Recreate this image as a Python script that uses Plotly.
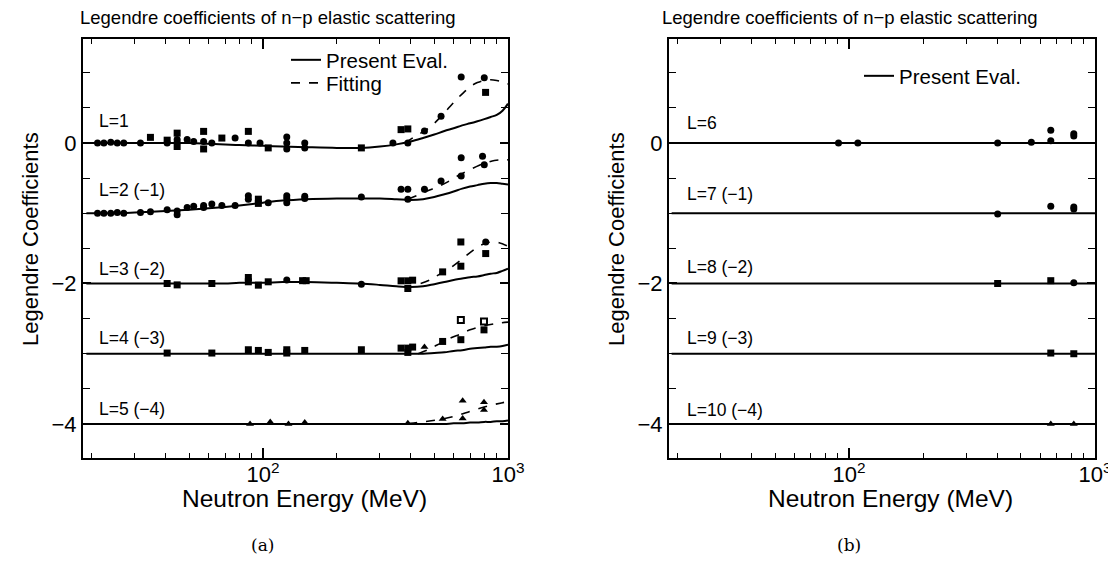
import plotly.graph_objects as go

# ---------------- data ----------------
E_curve = [19, 25, 30, 40, 50, 60, 70, 80, 100, 120, 150, 200, 250, 300, 350,
           400, 450, 500, 550, 600, 650, 700, 750, 800, 850, 900, 950, 1000]
L1_eval = [0, 0, 0, 0, 0, -0.01, -0.02, -0.03, -0.04, -0.05, -0.06, -0.07, -0.07, -0.05, -0.02,
           0.02, 0.07, 0.12, 0.17, 0.21, 0.25, 0.28, 0.31, 0.34, 0.37, 0.40, 0.46, 0.56]
L2_eval = [-1.0, -1.0, -0.99, -0.97, -0.95, -0.93, -0.91, -0.89, -0.85, -0.82, -0.80, -0.79, -0.79, -0.79, -0.80,
           -0.81, -0.80, -0.77, -0.73, -0.69, -0.65, -0.62, -0.60, -0.58, -0.57, -0.57, -0.58, -0.59]
L3_eval = [-2.0, -2.0, -2.0, -2.0, -2.0, -2.0, -2.0, -1.99, -1.99, -1.98, -1.98, -1.99, -2.0, -2.02, -2.04,
           -2.05, -2.04, -2.01, -1.98, -1.95, -1.93, -1.91, -1.90, -1.88, -1.86, -1.85, -1.82, -1.79]
L4_eval = [-3.0, -3.0, -3.0, -3.0, -3.0, -3.0, -3.0, -3.0, -3.0, -3.0, -3.0, -3.0, -3.0, -3.0, -3.0,
           -3.0, -3.0, -2.99, -2.98, -2.96, -2.95, -2.93, -2.92, -2.91, -2.90, -2.90, -2.89, -2.87]
L5_eval = [-4.0, -4.0, -4.0, -4.0, -4.0, -4.0, -4.0, -4.0, -4.0, -4.0, -4.0, -4.0, -4.0, -4.0, -4.0,
           -4.0, -4.0, -4.0, -4.0, -3.99, -3.99, -3.98, -3.98, -3.97, -3.97, -3.96, -3.96, -3.95]

# fitting curves (dashed)
L1_fit_E = [380, 420, 460, 500, 540, 580, 620, 660, 700, 750, 800, 850, 900, 950, 1000]
L1_fit = [0.0, 0.10, 0.18, 0.28, 0.40, 0.52, 0.63, 0.72, 0.80, 0.86, 0.89, 0.90, 0.89, 0.87, 0.84]
L2_fit_E = [390, 430, 470, 520, 570, 630, 700, 760, 820, 880, 950, 1000]
L2_fit = [-0.80, -0.74, -0.68, -0.62, -0.55, -0.46, -0.38, -0.32, -0.28, -0.25, -0.24, -0.24]
L3_fit_E = [440, 480, 530, 580, 640, 700, 760, 820, 870, 920, 1000]
L3_fit = [-2.0, -1.95, -1.86, -1.78, -1.67, -1.56, -1.47, -1.42, -1.41, -1.42, -1.47]
L4_fit_E = [430, 480, 530, 580, 640, 700, 780, 860, 940, 1000]
L4_fit = [-3.0, -2.93, -2.85, -2.78, -2.72, -2.66, -2.61, -2.58, -2.56, -2.55]
L5_fit_E = [330, 400, 470, 540, 620, 700, 780, 860, 940, 1000]
L5_fit = [-4.0, -3.99, -3.96, -3.93, -3.88, -3.82, -3.77, -3.73, -3.70, -3.68]

# experimental points, panel (a)
a_circ_E = [21.1, 22.4, 23.9, 25.4, 27.0, 31.6, 40.6, 44.6, 44.6, 49.0, 52.1, 57.2, 61.8, 76.9, 87.1, 97.2,
            125, 125, 125, 148, 148, 339, 390, 456, 533, 644, 800,
            21.1, 22.4, 23.9, 25.4, 27.0, 31.6, 34.7, 40.6, 44.6, 44.6, 49.0, 52.1, 57.2, 57.2, 61.8, 67.9,
            76.9, 87.1, 87.1, 105, 125, 125, 125, 148, 148, 252, 366, 390, 390, 456, 533, 644, 644, 787, 800,
            125, 252, 811]
a_circ_v = [0, 0, 0.01, 0, 0, 0, 0, 0.05, 0.01, 0.05, 0.02, 0.02, 0, 0.07, 0, 0,
            0.085, 0, -0.085, 0, -0.07, 0, 0, 0.17, 0.38, 0.94, 0.93,
            -1.0, -1.0, -1.0, -0.99, -1.0, -0.99, -0.98, -0.95, -0.97, -1.02, -0.92, -0.90, -0.89, -0.92, -0.87, -0.89,
            -0.89, -0.75, -0.80, -0.85, -0.75, -0.79, -0.85, -0.76, -0.79, -0.77, -0.66, -0.66, -0.80, -0.66, -0.54,
            -0.21, -0.47, -0.19, -0.31,
            -1.95, -2.01, -1.41]
a_sq_E = [34.7, 40.6, 44.6, 44.6, 57.2, 57.2, 67.9, 87.1, 105, 252, 366, 390, 810,
          95.7, 95.7,
          40.6, 44.6, 61.8, 87.1, 87.1, 95.7, 105, 145, 150, 366, 390, 390, 408, 541, 642, 642, 811,
          40.6, 61.8, 87.1, 95.7, 105, 125, 125, 148, 252, 366, 390, 390, 408, 541, 642, 798]
a_sq_v = [0.08, 0.04, 0.14, -0.05, 0.165, -0.085, 0.07, 0.165, -0.07, -0.07, 0.19, 0.2, 0.72,
          -0.8, -0.86,
          -2.0, -2.02, -2.0, -1.915, -1.976, -2.024, -1.976, -1.96, -1.96, -1.962, -1.962, -2.071, -1.953, -1.835,
          -1.754, -1.409, -1.574,
          -2.99, -2.99, -2.943, -2.953, -2.981, -2.943, -2.99, -2.953, -2.943, -2.92, -2.92, -2.981, -2.905,
          -2.825, -2.80, -2.66]
a_osq_E = [642, 798]
a_osq_v = [-2.518, -2.541]
a_tri_E = [88.5, 107, 127, 148, 390, 456, 541, 653, 653, 798, 798]
a_tri_v = [-4.0, -3.97, -4.0, -3.98, -3.99, -2.905, -3.93, -3.67, -3.92, -3.69, -3.80]

# panel (b)
b_E_line = [19, 1000]
b_offsets = [0, -1, -2, -3, -4]
b_circ_E = [90.6, 108.6, 402, 551, 661, 661, 820, 820, 402, 661, 820, 820, 820]
b_circ_v = [0, 0, 0, 0.01, 0.18, 0.03, 0.13, 0.10, -1.01, -0.90, -0.91, -0.94, -1.99]
b_sq_E = [402, 661, 661, 820]
b_sq_v = [-2.0, -1.96, -2.99, -3.0]
b_tri_E = [661, 820]
b_tri_v = [-4.0, -4.0]

labels_a = ["L=1", "L=2 (−1)", "L=3 (−2)", "L=4 (−3)", "L=5 (−4)"]
labels_b = ["L=6", "L=7 (−1)", "L=8 (−2)", "L=9 (−3)", "L=10 (−4)"]
label_y_a = [0.31, -0.67, -1.79, -2.77, -3.78]
label_y_b = [0.28, -0.72, -1.77, -2.77, -3.80]

x_tickvals = [100, 1000]
x_ticktext = ["10<sup>2</sup>", "10<sup>3</sup>"]
x_minor = [20, 30, 40, 50, 60, 70, 80, 90, 200, 300, 400, 500, 600, 700, 800, 900]
y_tickvals = [-4, -2, 0]
y_ticktext = ["−4", "−2", "0"]

# ---------------- figure ----------------
FONT = "Liberation Sans, Arial, sans-serif"
# the page body adds an 8 px margin; layout positions below are given in window pixels
OFF = 8
W, H = 1116 - OFF, 573 - 2 * OFF


def px(x):
    return (x - OFF) / W


def py(y):
    return 1 - (y - OFF) / H


fig = go.Figure()

evals = [L1_eval, L2_eval, L3_eval, L4_eval, L5_eval]
for i, ev in enumerate(evals):
    fig.add_trace(go.Scatter(x=E_curve, y=ev, mode="lines", line=dict(color="black", width=2, shape="spline"),
                             name="Present Eval.", showlegend=(i == 0), legend="legend",
                             xaxis="x", yaxis="y"))
fits = [(L1_fit_E, L1_fit), (L2_fit_E, L2_fit), (L3_fit_E, L3_fit), (L4_fit_E, L4_fit), (L5_fit_E, L5_fit)]
for i, (fe, fv) in enumerate(fits):
    fig.add_trace(go.Scatter(x=fe, y=fv, mode="lines",
                             line=dict(color="black", width=1.6, dash="dash", shape="spline"),
                             name="Fitting", showlegend=(i == 0), legend="legend3",
                             xaxis="x", yaxis="y"))

mk = dict(color="black", size=7)
fig.add_trace(go.Scatter(x=a_circ_E, y=a_circ_v, mode="markers", marker=dict(symbol="circle", **mk),
                         showlegend=False, xaxis="x", yaxis="y"))
fig.add_trace(go.Scatter(x=a_sq_E, y=a_sq_v, mode="markers", marker=dict(symbol="square", **mk),
                         showlegend=False, xaxis="x", yaxis="y"))
fig.add_trace(go.Scatter(x=a_osq_E, y=a_osq_v, mode="markers",
                         marker=dict(symbol="square-open", color="black", size=6, line=dict(width=2)),
                         showlegend=False, xaxis="x", yaxis="y"))
fig.add_trace(go.Scatter(x=a_tri_E, y=a_tri_v, mode="markers", marker=dict(symbol="triangle-up", **mk),
                         showlegend=False, xaxis="x", yaxis="y"))

for i, off in enumerate(b_offsets):
    fig.add_trace(go.Scatter(x=b_E_line, y=[off, off], mode="lines", line=dict(color="black", width=2),
                             name="Present Eval.", showlegend=(i == 0), legend="legend2",
                             xaxis="x2", yaxis="y2"))
fig.add_trace(go.Scatter(x=b_circ_E, y=b_circ_v, mode="markers", marker=dict(symbol="circle", **mk),
                         showlegend=False, xaxis="x2", yaxis="y2"))
fig.add_trace(go.Scatter(x=b_sq_E, y=b_sq_v, mode="markers", marker=dict(symbol="square", **mk),
                         showlegend=False, xaxis="x2", yaxis="y2"))
fig.add_trace(go.Scatter(x=b_tri_E, y=b_tri_v, mode="markers", marker=dict(symbol="triangle-up", **mk),
                         showlegend=False, xaxis="x2", yaxis="y2"))

dom_a = [px(83), px(508)]
dom_b = [px(669), px(1095)]
dom_y = [py(458), py(39)]

xax = dict(type="log", tickvals=x_tickvals, ticktext=x_ticktext,
           ticks="inside", ticklen=10, tickwidth=1.5, tickcolor="black", ticklabelstandoff=-4,
           minor=dict(tickvals=x_minor, ticks="inside", ticklen=5, tickwidth=1, tickcolor="black"),
           showline=True, linecolor="black", linewidth=2, mirror="ticks", showgrid=False, zeroline=False,
           tickfont=dict(family=FONT, size=22, color="black"))
yax = dict(range=[-4.484, 1.48], tickvals=y_tickvals, ticktext=y_ticktext,
           ticks="inside", ticklen=8, tickwidth=1.5, tickcolor="black",
           minor=dict(dtick=0.5, ticks="inside", ticklen=7, tickwidth=1.2, tickcolor="black"),
           showline=True, linecolor="black", linewidth=2, mirror="ticks", showgrid=False, zeroline=False,
           tickfont=dict(family=FONT, size=22, color="black"))

annotations = []
for txt, yv in zip(labels_a, label_y_a):
    annotations.append(dict(x=1.322, y=yv, xref="x", yref="y", text=txt, showarrow=False,
                            xanchor="left", yanchor="middle", font=dict(family=FONT, size=17.5, color="black")))
for txt, yv in zip(labels_b, label_y_b):
    annotations.append(dict(x=1.333, y=yv, xref="x2", yref="y2", text=txt, showarrow=False,
                            xanchor="left", yanchor="middle", font=dict(family=FONT, size=17.5, color="black")))
title_txt = "Legendre coefficients of n−p elastic scattering"


def pa(x, y, text, size, family=FONT, angle=0):
    return dict(x=px(x), y=py(y), xref="paper", yref="paper", text=text, showarrow=False,
                xanchor="center", yanchor="middle", textangle=angle,
                font=dict(family=family, size=size, color="black"))


annotations += [
    pa(268, 18, title_txt, 18.5),
    pa(850, 18, title_txt, 18.5),
    pa(31, 239, "Legendre Coefficients", 22, angle=-90),
    pa(617, 239, "Legendre Coefficients", 22, angle=-90),
    pa(304, 498, "Neutron Energy (MeV)", 24.5),
    pa(890, 498, "Neutron Energy (MeV)", 24.5),
    pa(262, 545, "(a)", 17, family="DejaVu Serif, serif"),
    pa(849, 545, "(b)", 17, family="DejaVu Serif, serif"),
]

leg_common = dict(xanchor="left", yanchor="top", bgcolor="rgba(0,0,0,0)",
                  font=dict(family=FONT, size=20.5, color="black"), itemwidth=30)
fig.update_layout(
    width=W, height=H, margin=dict(l=0, r=0, t=0, b=0, autoexpand=False),
    paper_bgcolor="white", plot_bgcolor="white",
    xaxis=dict(domain=dom_a, anchor="y", range=[1.265, 3.0], **xax),
    yaxis=dict(domain=dom_y, anchor="x", **yax),
    xaxis2=dict(domain=dom_b, anchor="y2", range=[1.268, 3.0], **xax),
    yaxis2=dict(domain=dom_y, anchor="x2", **yax),
    legend=dict(x=px(286), y=py(40), **leg_common),
    legend3=dict(x=px(286), y=py(63), **leg_common),
    legend2=dict(x=px(859), y=py(56), **leg_common),
    annotations=annotations,
)

fig.write_html("out.html")
